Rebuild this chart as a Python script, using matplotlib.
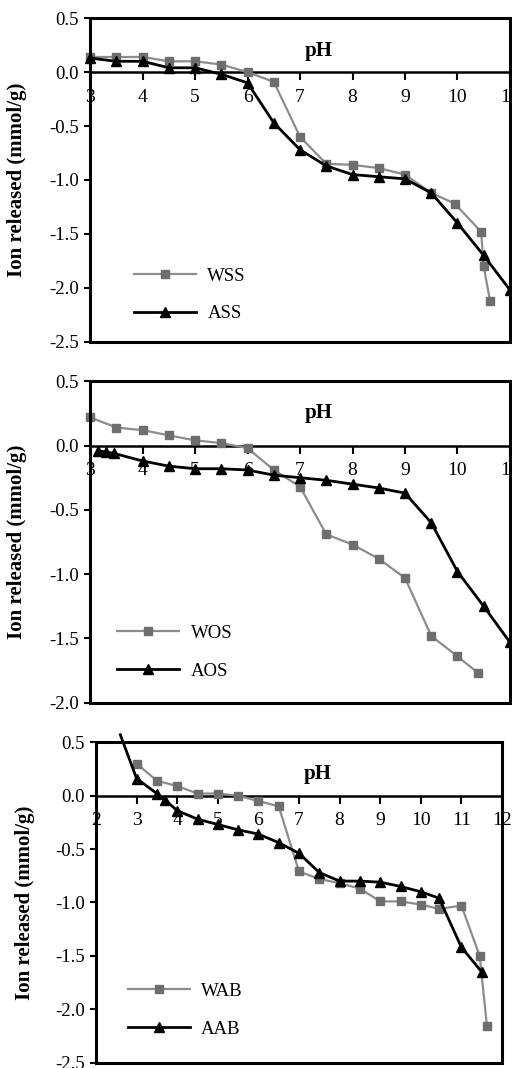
import matplotlib
matplotlib.use("Agg")
import matplotlib.pyplot as plt
from matplotlib.patches import Rectangle

plt.rcParams['font.family'] = ['Liberation Serif', 'DejaVu Serif']
plt.rcParams['font.size'] = 11

# panel 1
wss_x = [3, 3.5, 4, 4.5, 5, 5.5, 6, 6.5, 7, 7.5, 8, 8.5, 9, 9.5, 9.95, 10.45, 10.5, 10.62]
wss_y = [0.14, 0.14, 0.14, 0.10, 0.10, 0.07, 0.0, -0.09, -0.60, -0.85, -0.86, -0.89, -0.95, -1.12, -1.22, -1.48, -1.80, -2.12]
ass_x = [3, 3.5, 4, 4.5, 5, 5.5, 6, 6.5, 7, 7.5, 8, 8.5, 9, 9.5, 10, 10.5, 11]
ass_y = [0.13, 0.10, 0.10, 0.04, 0.04, -0.02, -0.10, -0.47, -0.72, -0.87, -0.95, -0.97, -0.99, -1.12, -1.40, -1.70, -2.02]

# panel 2
wos_x = [3, 3.5, 4, 4.5, 5, 5.5, 6, 6.5, 7, 7.5, 8, 8.5, 9, 9.5, 10, 10.4]
wos_y = [0.22, 0.14, 0.12, 0.08, 0.04, 0.02, -0.02, -0.19, -0.32, -0.69, -0.77, -0.88, -1.03, -1.48, -1.64, -1.77]
aos_x = [3.15, 3.3, 3.45, 4, 4.5, 5, 5.5, 6, 6.5, 7, 7.5, 8, 8.5, 9, 9.5, 10, 10.5, 11]
aos_y = [-0.04, -0.05, -0.06, -0.12, -0.16, -0.18, -0.18, -0.19, -0.23, -0.25, -0.27, -0.30, -0.33, -0.37, -0.60, -0.98, -1.25, -1.53]

# panel 3
wab_x = [3, 3.5, 4, 4.5, 5, 5.5, 6, 6.5, 7, 7.5, 8, 8.5, 9, 9.5, 10, 10.45, 11, 11.45, 11.63]
wab_y = [0.30, 0.14, 0.09, 0.02, 0.02, 0.0, -0.05, -0.10, -0.71, -0.78, -0.82, -0.87, -0.99, -0.99, -1.02, -1.06, -1.03, -1.50, -2.16]
aab_x = [2.6, 3, 3.5, 3.7, 4, 4.5, 5, 5.5, 6, 6.5, 7, 7.5, 8, 8.5, 9, 9.5, 10, 10.45, 11, 11.5]
aab_y = [0.57, 0.16, 0.02, -0.04, -0.14, -0.22, -0.27, -0.32, -0.36, -0.44, -0.54, -0.72, -0.80, -0.80, -0.81, -0.85, -0.90, -0.96, -1.42, -1.65]

panels = [
    dict(pos=[0.176, 0.680, 0.820, 0.303], xlim=(3, 11), ylim=(-2.5, 0.5),
         yticks=[0.5, 0.0, -0.5, -1.0, -1.5, -2.0, -2.5],
         w=(wss_x, wss_y, 'WSS'), a=(ass_x, ass_y, 'ASS'), leg=(0.105, 0.06), skip=0),
    dict(pos=[0.176, 0.342, 0.820, 0.301], xlim=(3, 11), ylim=(-2.0, 0.5),
         yticks=[0.5, 0.0, -0.5, -1.0, -1.5, -2.0],
         w=(wos_x, wos_y, 'WOS'), a=(aos_x, aos_y, 'AOS'), leg=(0.065, 0.072), skip=0),
    dict(pos=[0.1875, 0.005, 0.793, 0.300], xlim=(2, 12), ylim=(-2.5, 0.5),
         yticks=[0.5, 0.0, -0.5, -1.0, -1.5, -2.0, -2.5],
         w=(wab_x, wab_y, 'WAB'), a=(aab_x, aab_y, 'AAB'), leg=(0.078, 0.078), skip=1),
]

fig = plt.figure(figsize=(5.12, 10.68), dpi=100)

for p in panels:
    ax = fig.add_axes(p['pos'])
    wx, wy, wl = p['w']
    axx, ay, al = p['a']
    ax.plot(wx, wy, color='#8c8c8c', lw=1.6, marker='s', ms=5.5,
            mfc='#6e6e6e', mec='#6e6e6e', label=wl, clip_on=False, zorder=3)
    ax.plot(axx, ay, color='black', lw=2, marker='^', ms=7,
            mfc='black', mec='black', label=al, clip_on=False, zorder=4,
            markevery=list(range(p['skip'], len(axx))))
    ax.set_xlim(*p['xlim'])
    ax.set_ylim(*p['ylim'])
    ax.set_xticks(range(p['xlim'][0], p['xlim'][1] + 1))
    ax.set_yticks(p['yticks'])
    ax.set_yticklabels([f'{v:.1f}' for v in p['yticks']])

    # x axis sits on the zero line, frame drawn separately
    ax.spines['bottom'].set_position(('data', 0))
    for s in ['top', 'right', 'left', 'bottom']:
        ax.spines[s].set_linewidth(1.8)
    ax.add_patch(Rectangle((0, 0), 1, 1, transform=ax.transAxes, fill=False,
                           lw=2.2, ec='black', clip_on=False, zorder=5))
    ax.tick_params(axis='x', direction='out', length=6, width=1.5, pad=6, labelsize=14)
    ax.tick_params(axis='y', direction='out', length=4, width=1.5, pad=4, labelsize=13.5)

    ax.text(0.545, 0.9, 'pH', transform=ax.transAxes, ha='center', va='center',
            fontsize=15, fontweight='bold')
    ax.set_ylabel('Ion released (mmol/g)', fontsize=15, fontweight='bold')
    ax.yaxis.set_label_coords(-0.15, 0.5)

    ax.legend(loc='lower left', bbox_to_anchor=p['leg'], frameon=False,
              handlelength=3.3, handletextpad=0.6, labelspacing=1.1,
              borderpad=0, borderaxespad=0, fontsize=13.5)

fig.savefig('out.png', dpi=100)
